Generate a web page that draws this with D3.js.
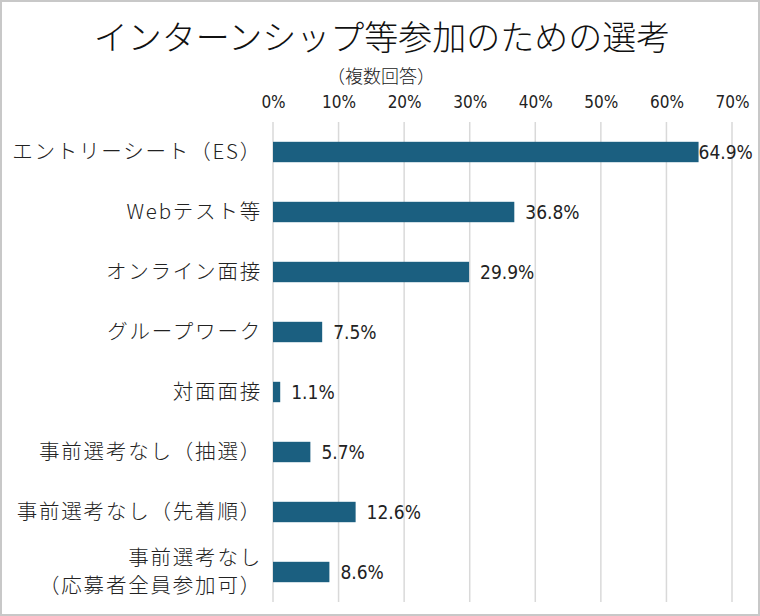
<!DOCTYPE html>
<html>
<head>
<meta charset="utf-8">
<script src="https://cdn.jsdelivr.net/npm/d3@7"></script>
<style>
  body { margin: 0; background: #fff; }
  svg { display: block; }
  .cat { font-family: "Noto Sans CJK JP", sans-serif; font-size: 20.5px; font-weight: 300; letter-spacing: 1.8px; fill: #222; }
  .num { font-family: "DejaVu Sans Condensed", "Liberation Sans Narrow", sans-serif; font-size: 17px; fill: #222; }
</style>
</head>
<body>
<svg id="chart" width="760" height="616"></svg>
<script>
// data
const categories = [
    ["エントリーシート（ES）"],
    ["Webテスト等"],
    ["オンライン面接"],
    ["グループワーク"],
    ["対面面接"],
    ["事前選考なし（抽選）"],
    ["事前選考なし（先着順）"],
    ["事前選考なし", "（応募者全員参加可）"]
];
const values = [64.9, 36.8, 29.9, 7.5, 1.1, 5.7, 12.6, 8.6];
const tickValues = [0, 10, 20, 30, 40, 50, 60, 70];

const svg = d3.select("#chart");
const W = 760, H = 616;

// outer frame
svg.append("rect")
    .attr("x", 1).attr("y", 1)
    .attr("width", W - 2).attr("height", H - 2)
    .attr("fill", "#fff")
    .attr("stroke", "#c8c8c8")
    .attr("stroke-width", 2);

// title
svg.append("text")
    .attr("x", 382).attr("y", 50)
    .attr("text-anchor", "middle")
    .style("font-family", "'Noto Sans CJK JP', sans-serif")
    .style("font-size", "34px")
    .style("font-weight", 300)
    .attr("fill", "#111")
    .text("インターンシップ等参加のための選考");

svg.append("text")
    .attr("x", 381).attr("y", 83)
    .attr("text-anchor", "middle")
    .style("font-family", "'Noto Sans CJK JP', sans-serif")
    .style("font-size", "18px")
    .style("font-weight", 300)
    .attr("fill", "#222")
    .text("（複数回答）");

let x = d3.scaleLinear().domain([0, 70]).range([273, 732]);
let y = d3.scaleBand()
    .domain(d3.range(categories.length))
    .range([122, 602])
    .paddingInner(0.66)
    .paddingOuter(0.33);

// gridlines
svg.append("g")
    .selectAll("line")
    .data(tickValues)
    .enter()
    .append("line")
    .attr("x1", d => x(d)).attr("x2", d => x(d))
    .attr("y1", 122).attr("y2", 602)
    .attr("stroke", "#d9d9d9")
    .attr("stroke-width", 1.5);

// top axis labels
let axis = svg.append("g")
    .attr("transform", "translate(0,110)")
    .call(d3.axisTop(x).tickValues(tickValues).tickSize(0).tickFormat(d => d + "%"));
axis.select(".domain").remove();
axis.selectAll("text")
    .attr("class", "num")
    .attr("y", -2)
    .attr("font-family", null)
    .attr("font-size", null);

// bars
svg.append("g")
    .selectAll("rect")
    .data(values)
    .enter()
    .append("rect")
    .attr("x", x(0))
    .attr("y", (d, i) => y(i))
    .attr("width", d => x(d) - x(0))
    .attr("height", y.bandwidth())
    .attr("fill", "#1b5f80");

// value labels
svg.append("g")
    .selectAll("text")
    .data(values)
    .enter()
    .append("text")
    .attr("class", "num")
    .attr("x", d => x(d) + (d > 60 ? 0 : 11))
    .attr("y", (d, i) => y(i) + y.bandwidth() / 2 + 7)
    .style("font-size", "19px")
    .text(d => d.toFixed(1) + "%");

// category labels
let catG = svg.append("g");
categories.forEach(function(lines, i) {
    let cy = y(i) + y.bandwidth() / 2;
    lines.forEach(function(s, j) {
        catG.append("text")
            .attr("class", "cat")
            .attr("text-anchor", "end")
            .attr("x", 262)
            .attr("y", cy + 7 + (j - (lines.length - 1) / 2) * 28)
            .text(s);
    });
});
</script>
</body>
</html>
